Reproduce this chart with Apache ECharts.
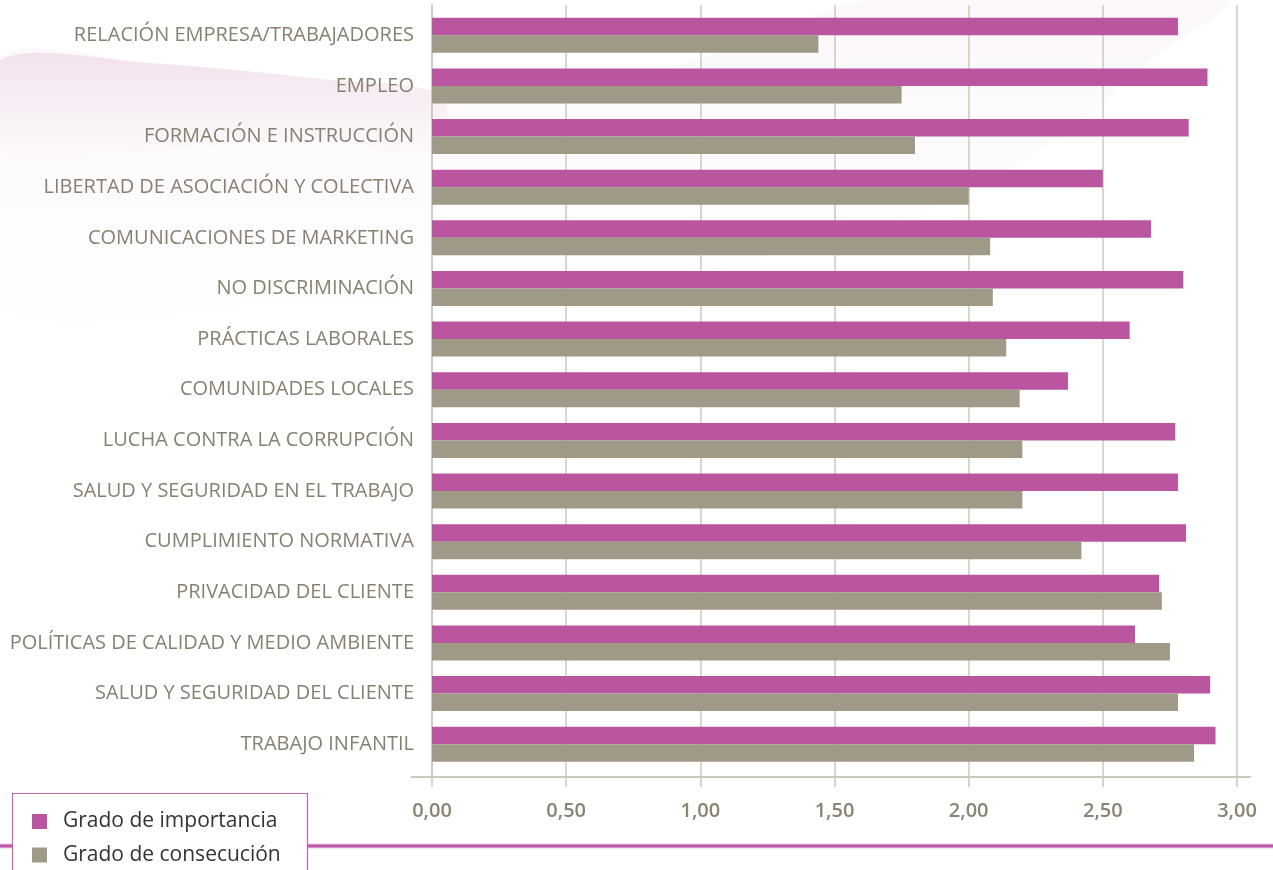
<!DOCTYPE html>
<html>
<head>
<meta charset="utf-8">
<script src="https://cdn.jsdelivr.net/npm/echarts@6/dist/echarts.min.js"></script>
<style>
  html, body { margin: 0; padding: 0; background: #fff; }
  #chart { width: 1273px; height: 870px; }
</style>
</head>
<body>
<div id="chart"></div>
<script>
// categorías, de arriba abajo
const categories = [
  'RELACIÓN EMPRESA/TRABAJADORES',
  'EMPLEO',
  'FORMACIÓN E INSTRUCCIÓN',
  'LIBERTAD DE ASOCIACIÓN Y COLECTIVA',
  'COMUNICACIONES DE MARKETING',
  'NO DISCRIMINACIÓN',
  'PRÁCTICAS LABORALES',
  'COMUNIDADES LOCALES',
  'LUCHA CONTRA LA CORRUPCIÓN',
  'SALUD Y SEGURIDAD EN EL TRABAJO',
  'CUMPLIMIENTO NORMATIVA',
  'PRIVACIDAD DEL CLIENTE',
  'POLÍTICAS DE CALIDAD Y MEDIO AMBIENTE',
  'SALUD Y SEGURIDAD DEL CLIENTE',
  'TRABAJO INFANTIL'
]
const importancia = [2.78, 2.89, 2.82, 2.50, 2.68, 2.80, 2.60, 2.37, 2.77, 2.78, 2.81, 2.71, 2.62, 2.90, 2.92]
const consecucion = [1.44, 1.75, 1.80, 2.00, 2.08, 2.09, 2.14, 2.19, 2.20, 2.20, 2.42, 2.72, 2.75, 2.78, 2.84]
const seriesNames = ['Grado de importancia', 'Grado de consecución']
const xMin = 0
const xMax = 3
const xStep = 0.5

const pink = '#ba56a0'
const grey = '#9f9987'
const gridColor = '#ccc8bc'
const labelColor = '#878170'

const vGradient = (top, bottom) => ({
  type: 'linear', x: 0, y: 0, x2: 0, y2: 1,
  colorStops: [{ offset: 0, color: top }, { offset: 1, color: bottom }]
})

const chart = echarts.init(document.getElementById('chart'))

const option = {
  animation: false,
  textStyle: { fontFamily: 'Open Sans' },
  grid: [
    // barras
    { left: 432, right: 36, top: 10, height: 759.5 },
    // rejilla y eje
    { left: 432, right: 36, top: 5, height: 772 }
  ],
  xAxis: [
    { gridIndex: 0, type: 'value', min: xMin, max: xMax, interval: xStep, show: false },
    {
      gridIndex: 1,
      type: 'value',
      min: xMin,
      max: xMax,
      interval: xStep,
      axisLine: { show: false },
      axisTick: { show: true, length: 10, lineStyle: { color: gridColor, width: 1.5 } },
      splitLine: { show: true, lineStyle: { color: gridColor, width: 1.5 } },
      axisLabel: {
        margin: 24,
        color: '#8a8472',
        fontSize: 20,
        fontWeight: 600,
        formatter: v => v.toFixed(2).replace('.', ',')
      }
    }
  ],
  yAxis: [
    {
      gridIndex: 0,
      type: 'category',
      data: categories,
      inverse: true,
      axisLine: { show: false },
      axisTick: { show: false },
      axisLabel: { color: labelColor, fontSize: 20, margin: 18 }
    },
    {
      gridIndex: 1,
      type: 'value',
      min: 0,
      max: 1,
      axisLine: { show: true, lineStyle: { color: gridColor, width: 1.5 } },
      axisTick: { show: false },
      axisLabel: { show: false },
      splitLine: { show: false }
    }
  ],
  legend: {
    orient: 'vertical',
    left: 32,
    top: 811,
    padding: 0,
    itemWidth: 15,
    itemHeight: 15,
    itemGap: 12.5,
    icon: 'rect',
    data: seriesNames,
    textStyle: { color: '#333', fontSize: 21, padding: [0, 0, 0, 11] }
  },
  series: [
    {
      name: seriesNames[0],
      type: 'bar',
      xAxisIndex: 0,
      yAxisIndex: 0,
      data: importancia,
      barWidth: 17.5,
      barGap: '0%',
      itemStyle: { color: pink }
    },
    {
      name: seriesNames[1],
      type: 'bar',
      xAxisIndex: 0,
      yAxisIndex: 0,
      data: consecucion,
      barWidth: 17.5,
      barGap: '0%',
      itemStyle: { color: grey }
    }
  ],
  graphic: [
    // fondo decorativo
    {
      type: 'polygon',
      z: -10,
      silent: true,
      shape: {
        smooth: 0.3,
        points: [[0, 60], [150, 63], [330, 80], [440, 95], [600, 85], [760, 40], [870, 0],
          [1225, 0], [1150, 60], [1050, 145], [900, 220], [600, 285], [300, 300], [0, 305]]
      },
      style: { fill: vGradient('rgba(242,228,238,0.3)', 'rgba(248,240,246,0.1)') }
    },
    {
      type: 'polygon',
      z: -9,
      silent: true,
      shape: {
        smooth: 0.3,
        points: [[0, 60], [150, 63], [330, 80], [440, 95], [440, 150], [300, 140], [150, 150], [0, 155]]
      },
      style: { fill: vGradient('rgba(236,210,229,0.6)', 'rgba(244,232,241,0.1)') }
    },
    // línea del eje x
    {
      type: 'line',
      z: 1,
      silent: true,
      shape: { x1: 411, y1: 777, x2: 1251, y2: 777 },
      style: { stroke: gridColor, lineWidth: 2 }
    },
    // línea inferior rosa
    {
      type: 'line',
      z: 1,
      silent: true,
      shape: { x1: 0, y1: 846, x2: 1273, y2: 846 },
      style: { stroke: '#ebc6e2', lineWidth: 5 }
    },
    {
      type: 'line',
      z: 1,
      silent: true,
      shape: { x1: 0, y1: 846, x2: 1273, y2: 846 },
      style: { stroke: '#c058a8', lineWidth: 3 }
    },
    // caja de la leyenda
    {
      type: 'rect',
      z: 2,
      silent: true,
      shape: { x: 12.5, y: 793.5, width: 295, height: 100 },
      style: { fill: '#fff', stroke: '#c764b3', lineWidth: 1.2 }
    }
  ]
}

chart.setOption(option)
</script>
</body>
</html>
